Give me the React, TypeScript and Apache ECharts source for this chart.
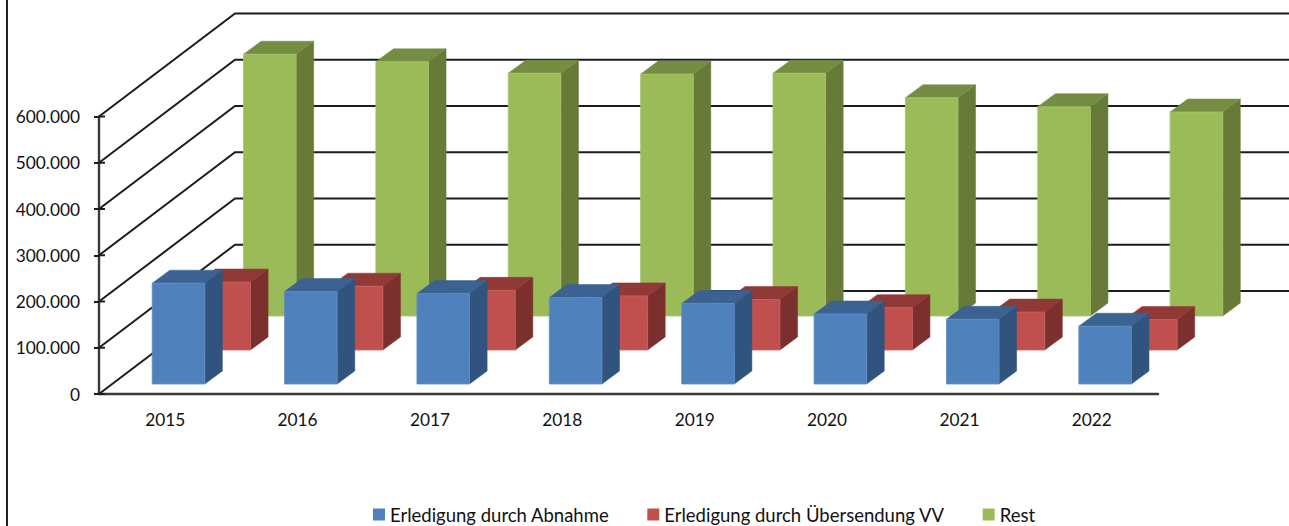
import React, { useEffect, useRef } from "react";
import * as echarts from "echarts";

const years = ["2015", "2016", "2017", "2018", "2019", "2020", "2021", "2022"];
const abnahme = [218000, 200000, 195500, 187000, 174000, 151500, 140000, 125000];
const uebersendung = [147000, 138000, 129000, 117000, 109000, 91600, 82000, 66000];
const rest = [566000, 549600, 525000, 523000, 525000, 472000, 452600, 441000];
const wallTicks = [0, 100000, 200000, 300000, 400000, 500000, 600000];

const BAR_W = 52.6;
const DEPTH_X = 17.6;
const DEPTH_Y = -13;
const WALL_X = 136;
const WALL_Y = -103;

function fmt(v: number) {
  return String(v).replace(/\B(?=(\d{3})+(?!\d))/g, ".");
}

function barRenderer(
  rowX: number,
  rowY: number,
  front: string,
  side: string,
  top: string,
  edge: string
) {
  return (_params: any, api: any) => {
    const idx = api.value(0);
    const zero = api.coord([idx, 0]);
    const val = api.coord([idx, api.value(1)]);
    const x0 = zero[0] + rowX;
    const x1 = x0 + BAR_W;
    const yB = zero[1] + rowY;
    const yT = yB - (zero[1] - val[1]);
    const dx = DEPTH_X;
    const dy = DEPTH_Y;
    return {
      type: "group",
      children: [
        {
          type: "polygon",
          shape: { points: [[x1, yB], [x1 + dx, yB + dy], [x1 + dx, yT + dy], [x1, yT]] },
          style: { fill: side, stroke: side, lineWidth: 0.5 },
        },
        {
          type: "polygon",
          shape: { points: [[x0, yT], [x1, yT], [x1 + dx, yT + dy], [x0 + dx, yT + dy]] },
          style: { fill: top, stroke: top, lineWidth: 0.5 },
        },
        {
          type: "rect",
          shape: { x: x0, y: yT, width: BAR_W, height: yB - yT },
          style: { fill: front, stroke: edge, lineWidth: 0.8 },
        },
      ],
    };
  };
}

function wallRenderer(params: any, api: any) {
  const cs = params.coordSys;
  const y = api.coord([0, api.value(0)])[1];
  const x = cs.x;
  return {
    type: "group",
    children: [
      {
        type: "polyline",
        shape: { points: [[x, y], [x + WALL_X, y + WALL_Y], [1289, y + WALL_Y]] },
        style: { fill: "none", stroke: "#1c1c1c", lineWidth: 2 },
      },
      {
        type: "line",
        shape: { x1: x, y1: y, x2: x + 6, y2: y },
        style: { stroke: "#1c1c1c", lineWidth: 2 },
      },
    ],
  };
}

export default function App() {
  const ref = useRef<HTMLDivElement>(null);
  useEffect(() => {
    document.body.style.margin = "0";
    const chart = echarts.init(ref.current!, null, { renderer: "svg" });
    const font = "Lato";
    chart.setOption({
      animation: false,
      backgroundColor: "#ffffff",
      textStyle: { fontFamily: font },
      grid: { left: 99, top: 116.5, width: 1059, height: 277.5 },
      legend: {
        left: 373,
        top: 505,
        padding: 0,
        selectedMode: false,
        itemWidth: 12,
        itemHeight: 12,
        itemGap: 38,
        icon: "rect",
        data: ["Erledigung durch Abnahme", "Erledigung durch Übersendung VV", "Rest"],
        textStyle: { fontFamily: font, fontSize: 18.5, color: "#111111" },
      },
      xAxis: {
        type: "category",
        data: years,
        axisLine: { lineStyle: { color: "#3a3a3a", width: 2.4 } },
        axisTick: { show: false },
        axisLabel: { color: "#111111", fontSize: 17.3, margin: 17, fontFamily: font },
      },
      yAxis: {
        type: "value",
        min: 0,
        max: 600000,
        interval: 100000,
        splitLine: { show: false },
        axisLine: { show: true, lineStyle: { color: "#3a3a3a", width: 2.4 } },
        axisTick: { show: true, length: 5, lineStyle: { color: "#1c1c1c", width: 2 } },
        axisLabel: { color: "#111111", fontSize: 17.3, margin: 19, fontFamily: font, formatter: (v: number) => fmt(v) },
      },
      graphic: [
        {
          type: "line",
          shape: { x1: 7, y1: 0, x2: 7, y2: 526 },
          style: { stroke: "#222222", lineWidth: 2 },
        },
      ],
      series: [
        {
          type: "custom",
          name: "walls",
          z: 1,
          silent: true,
          clip: false,
          data: wallTicks.map((v) => [v]),
          encode: { y: 0 },
          renderItem: wallRenderer,
        },
        {
          type: "custom",
          name: "Erledigung durch Abnahme",
          z: 5,
          clip: false,
          itemStyle: { color: "#4F81BD" },
          data: abnahme.map((v, i) => [i, v]),
          encode: { x: 0, y: 1 },
          renderItem: barRenderer(-13, -10, "#4F81BD", "#31547E", "#3B6291", "#5F8EC6"),
        },
        {
          type: "custom",
          name: "Erledigung durch Übersendung VV",
          z: 4,
          clip: false,
          itemStyle: { color: "#C0504D" },
          data: uebersendung.map((v, i) => [i, v]),
          encode: { x: 0, y: 1 },
          renderItem: barRenderer(32.7, -44, "#C0504D", "#7B302E", "#913937", "#C9625F"),
        },
        {
          type: "custom",
          name: "Rest",
          z: 3,
          clip: false,
          itemStyle: { color: "#9BBB59" },
          data: rest.map((v, i) => [i, v]),
          encode: { x: 0, y: 1 },
          renderItem: barRenderer(78.3, -78, "#9BBB59", "#677A38", "#758D43", "#A6C46C"),
        },
      ],
    });
    return () => chart.dispose();
  }, []);
  return <div ref={ref} style={{ width: 1289, height: 526, overflow: "hidden" }} />;
}
